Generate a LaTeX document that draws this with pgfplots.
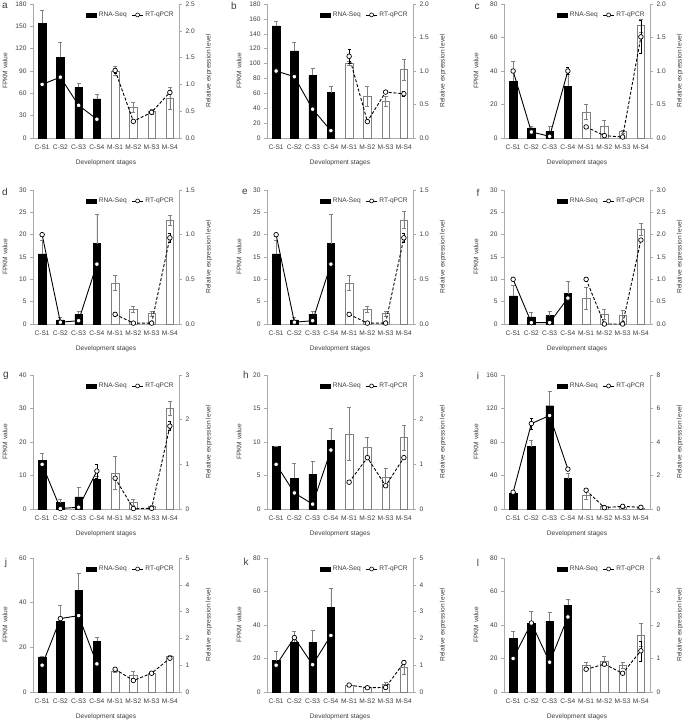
\documentclass[border=0pt]{standalone}
\usepackage{fontspec}
\setmainfont{Liberation Sans}
\usepackage{pgfplots}
\usepackage{pgfplotstable}
\pgfplotsset{compat=1.18}
\definecolor{axgray}{RGB}{170,170,170}
\definecolor{bargray}{RGB}{128,128,128}
\definecolor{txt}{RGB}{60,60,60}

\pgfplotstableread{
x f e q qe
0 154 17 1.00 0
1 108.5 20 1.135 0
2 68.3 5.4 0.61 0
3 52.7 5.4 0.35 0
4 89.8 6 1.26 0.05
5 41 7 0.31 0
6 35.3 3 0.48 0
7 53 15 0.85 0.03
}\ta
\pgfplotstableread{
x f e q qe
0 150.7 6 1.00 0
1 117 11 0.915 0
2 84 10 0.43 0
3 61 8 0.11 0
4 100 3 1.22 0.1
5 56 13 0.245 0
6 49.5 7 0.685 0
7 92 14 0.66 0.04
}\tb
\pgfplotstableread{
x f e q qe
0 34 12 1.00 0
1 6 1 0.09 0
2 4 3 0.025 0
3 31 7 1.00 0.05
4 15.5 4.5 0.165 0
5 6.7 3.6 0.035 0
6 3.8 1 0.015 0
7 67 3.6 1.51 0.25
}\tc
\pgfplotstableread{
x f e q qe
0 15.7 3 1.00 0
1 0.9 0.7 0.02 0
2 2.2 0.6 0.037 0
3 18 6.6 0.67 0
4 9.2 1.6 0.108 0
5 3.35 0.7 0.01 0
6 2.3 0.5 0.01 0
7 23.3 1.1 0.965 0.05
}\td
\pgfplotstableread{
x f e q qe
0 15.7 3 1.00 0
1 0.9 0.7 0.02 0
2 2.2 0.6 0.037 0
3 18 6.6 0.67 0
4 9.2 1.6 0.108 0
5 3.35 0.7 0.01 0
6 2.3 0.5 0.01 0
7 23.3 1.9 0.965 0.05
}\te
\pgfplotstableread{
x f e q qe
0 6.3 2.3 1.00 0
1 1.6 1 0.03 0
2 1.9 0.9 0.03 0
3 6.8 2.7 0.58 0
4 5.8 2.4 1.00 0.05
5 2.1 1.1 0.0 0
6 1.9 1.2 0.0 0
7 21.2 1.4 1.88 0
}\tf
\pgfplotstableread{
x f e q qe
0 14.6 2 1.00 0
1 1.9 1.1 0.01 0
2 3.6 3 0.04 0
3 8.9 1 0.85 0.15
4 10.8 5 0.69 0
5 2.0 0.9 0.01 0
6 0.7 0.4 0.015 0
7 30.1 2 1.855 0.1
}\tg
\pgfplotstableread{
x f e q qe
0 9.3 0.1 1.00 0
1 4.6 2.2 0.36 0
2 5.2 1.9 0.11 0
3 10.25 1.8 1.32 0
4 11.2 4 0.6 0
5 9.15 1.6 1.15 0
6 4.8 1.3 0.52 0
7 10.65 1.9 1.15 0
}\th
\pgfplotstableread{
x f e q qe
0 18.5 3 1.00 0
1 74.5 8 5.1 0.35
2 123.3 17.4 5.58 0
3 36.3 6.7 2.38 0
4 16.2 5 1.12 0
5 2.8 2 0.08 0
6 1.6 0.8 0.16 0
7 1.2 0.4 0.1 0
}\ti
\pgfplotstableread{
x f e q qe
0 15.7 0.5 1.00 0
1 31.7 7 2.74 0
2 45.5 7.8 2.85 0
3 22.8 1.6 1.05 0
4 9.2 0.4 0.85 0
5 7.7 1.5 0.43 0
6 8.4 0.3 0.7 0
7 15.9 0.7 1.26 0
}\tj
\pgfplotstableread{
x f e q qe
0 18.8 5.4 1.00 0
1 29.8 6.5 2.03 0
2 29.8 7.3 1.02 0
3 50.6 11.3 2.11 0
4 4.0 0.6 0.26 0
5 2.8 0.3 0.16 0
6 4.6 1.4 0.17 0
7 14.9 4.3 1.10 0
}\tk
\pgfplotstableread{
x f e q qe
0 32 4 1.00 0
1 40.9 7.3 2.06 0
2 42.3 5 0.89 0
3 51.8 3.5 2.24 0
4 16.2 1.6 0.68 0
5 18.6 2.5 0.83 0
6 15.8 1.8 0.56 0
7 34 6.9 1.23 0.3
}\tl

\newcommand\smallfont{\fontsize{6.6}{7.5}\selectfont}

\pgfplotsset{
  common/.style={
    scale only axis, width=146pt, height=134pt, anchor=south west,
    xmin=-0.5, xmax=7.5, ymin=0, clip=false,
    tick label style={font=\smallfont, text=txt},
    label style={font=\smallfont, text=txt},
    tick align=outside, major tick length=3pt, tick style={axgray, line width=0.5pt},
    /pgf/number format/assume math mode=true,
    scaled y ticks=false,
  },
  leftax/.style={common,
    axis y line*=left, axis x line*=bottom,
    axis line style={-, axgray, line width=0.7pt},
    xtick={0,...,7}, xticklabels={C-S1,C-S2,C-S3,C-S4,M-S1,M-S2,M-S3,M-S4},
    x tick style={draw=none},
    xlabel={Development stages}, ylabel={FPKM value},
    xlabel style={at={([yshift=-25pt]axis description cs:0.5,0)}, anchor=center},
    ylabel style={at={([xshift=-28pt]axis description cs:0,0.5)}, anchor=center},
  },
  rightax/.style={common,
    axis x line=none, axis y line*=right,
    axis line style={-, axgray, line width=0.7pt},
    xtick=\empty,
    ylabel={Relative expression level},
    ylabel style={at={([xshift=30pt]axis description cs:1,0.5)}, anchor=center},
    legend style={at={(axis description cs:0.985,0.965)}, anchor=north east,
      draw=none, fill=none, font=\smallfont, text=txt, inner sep=1pt,
      /tikz/every even column/.append style={column sep=3pt}},
    legend columns=2, legend cell align=left,
  },
  cbar/.style={ybar, bar width=7.5pt, bar shift=0pt, fill=black, draw=black,
    restrict x to domain=0:3,
    error bars/y dir=plus, error bars/y explicit,
    error bars/error bar style={bargray, line width=0.6pt},
    error bars/error mark options={rotate=90, mark size=2pt, bargray, line width=0.6pt}},
  mbar/.style={ybar, bar width=7.5pt, bar shift=0pt, fill=white, draw=bargray, line width=0.6pt,
    restrict x to domain=4:7,
    error bars/y dir=both, error bars/y explicit,
    error bars/error bar style={bargray, line width=0.6pt},
    error bars/error mark options={rotate=90, mark size=2pt, bargray, line width=0.6pt}},
  cline/.style={black, line width=0.9pt, mark=*, mark size=2.3pt,
    mark options={fill=white, draw=black, solid, line width=0.7pt},
    restrict x to domain=0:3,
    error bars/y dir=both, error bars/y explicit,
    error bars/error bar style={black, line width=0.5pt, solid},
    error bars/error mark options={rotate=90, mark size=1.5pt, black, solid}},
  mline/.style={black, line width=0.9pt, dash pattern=on 3pt off 1.8pt, mark=*, mark size=2.3pt,
    mark options={fill=white, draw=black, solid, line width=0.7pt},
    restrict x to domain=4:7,
    error bars/y dir=both, error bars/y explicit,
    error bars/error bar style={black, line width=0.5pt, solid},
    error bars/error mark options={rotate=90, mark size=1.5pt, black, solid}},
}

% #1 x, #2 y, #3 ymaxL, #4 stepL, #5 ymaxR, #6 stepR, #7 table, #8 right extras
\newcommand\panel[8]{%
\begin{axis}[leftax, at={(#1pt,#2pt)}, ymax=#3, ytick distance=#4]
\addplot[cbar] table[x=x,y=f,y error=e]{#7};
\addplot[mbar] table[x=x,y=f,y error=e]{#7};
\end{axis}
\begin{axis}[rightax, at={(#1pt,#2pt)}, ymax=#5, ytick distance=#6, #8]
\addlegendimage{legend image code/.code={\fill[black] (0pt,-2.2pt) rectangle (10pt,2.2pt);}}
\addlegendentry{RNA-Seq}
\addplot[legend image code/.code={\draw[black, line width=0.8pt] (0pt,0pt) -- (11pt,0pt); \draw[black, fill=white, line width=0.6pt] (5.5pt,0pt) circle (2pt);}, cline] table[x=x,y=q,y error=qe]{#7};
\addlegendentry{RT-qPCR}
\addplot[forget plot, mline] table[x=x,y=q,y error=qe]{#7};
\end{axis}
}

\newcommand\onedec{yticklabel style={/pgf/number format/.cd, fixed, fixed zerofill, precision=1}}

\begin{document}
\begin{tikzpicture}
\useasboundingbox (0,0) rectangle (685pt,-722pt);
\panel{33}{-138}{180}{30}{2.5}{0.5}{\ta}{\onedec}
\panel{267}{-138}{180}{20}{2.0}{0.5}{\tb}{\onedec}
\panel{504}{-138}{80}{20}{2.0}{0.5}{\tc}{\onedec}
\panel{33}{-324}{30}{5}{1.5}{0.5}{\td}{\onedec}
\panel{267}{-324}{30}{5}{1.5}{0.5}{\te}{\onedec}
\panel{504}{-324}{30}{5}{3.0}{0.5}{\tf}{\onedec}
\panel{33}{-509}{40}{10}{3}{1}{\tg}{}
\panel{267}{-509}{20}{5}{3}{1}{\th}{}
\panel{504}{-509}{160}{40}{8}{2}{\ti}{}
\panel{33}{-692}{60}{20}{5}{1}{\tj}{}
\panel{267}{-692}{80}{20}{5}{1}{\tk}{}
\panel{504}{-692}{80}{20}{4}{1}{\tl}{}
\begin{scope}[every node/.style={font=\fontsize{10}{10}\selectfont, text=txt}]
\node at (5pt,-6pt) {a};
\node at (234pt,-6pt) {b};
\node at (477pt,-7pt) {c};
\node at (5pt,-192pt) {d};
\node at (245pt,-192pt) {e};
\node at (478pt,-193pt) {f};
\node at (6pt,-376pt) {g};
\node at (246pt,-375pt) {h};
\node at (478pt,-376pt) {i};
\node at (6pt,-563pt) {j};
\node at (246pt,-562pt) {k};
\node at (478pt,-563pt) {l};
\end{scope}
\end{tikzpicture}
\end{document}
